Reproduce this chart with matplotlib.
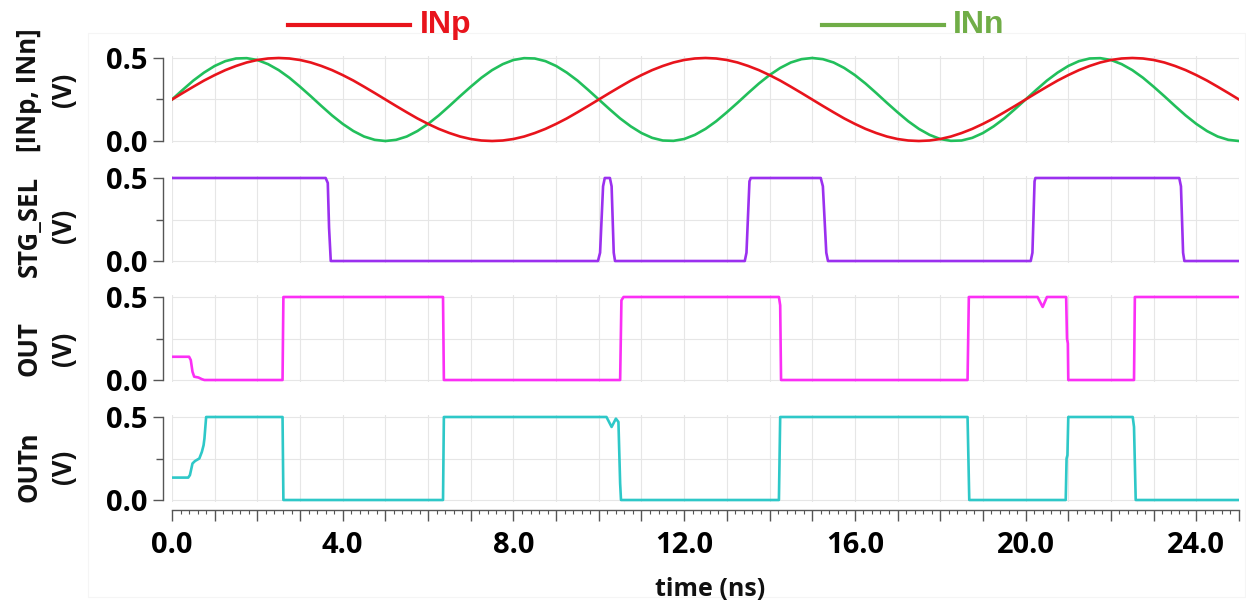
import numpy as np
import matplotlib
matplotlib.use("Agg")
import matplotlib.pyplot as plt
from matplotlib.lines import Line2D
from matplotlib.patches import Rectangle
from matplotlib.ticker import MultipleLocator, FuncFormatter

plt.rcParams['font.family'] = ['Open Sans', 'DejaVu Sans']
plt.rcParams['font.weight'] = 'bold'

# ---------------- data ----------------
t_sine = np.linspace(0, 25, 101)  # sample times, ns (0.25 ns step)

inp_v = [0.250, 0.289, 0.327, 0.364, 0.397, 0.427, 0.452, 0.473, 0.488, 0.497,
         0.500, 0.497, 0.488, 0.473, 0.452, 0.427, 0.397, 0.364, 0.327, 0.289,
         0.250, 0.211, 0.173, 0.136, 0.103, 0.073, 0.048, 0.027, 0.012, 0.003,
         0.000, 0.003, 0.012, 0.027, 0.048, 0.073, 0.103, 0.136, 0.173, 0.211,
         0.250, 0.289, 0.327, 0.364, 0.397, 0.427, 0.452, 0.473, 0.488, 0.497,
         0.500, 0.497, 0.488, 0.473, 0.452, 0.427, 0.397, 0.364, 0.327, 0.289,
         0.250, 0.211, 0.173, 0.136, 0.103, 0.073, 0.048, 0.027, 0.012, 0.003,
         0.000, 0.003, 0.012, 0.027, 0.048, 0.073, 0.103, 0.136, 0.173, 0.211,
         0.250, 0.289, 0.327, 0.364, 0.397, 0.427, 0.452, 0.473, 0.488, 0.497,
         0.500, 0.497, 0.488, 0.473, 0.452, 0.427, 0.397, 0.364, 0.327, 0.289,
         0.250]

inn_v = [0.250, 0.308, 0.364, 0.412, 0.452, 0.481, 0.497, 0.499, 0.488, 0.463,
         0.427, 0.381, 0.327, 0.270, 0.211, 0.154, 0.103, 0.060, 0.027, 0.007,
         0.000, 0.007, 0.027, 0.060, 0.103, 0.154, 0.211, 0.270, 0.327, 0.381,
         0.427, 0.463, 0.488, 0.499, 0.497, 0.481, 0.452, 0.412, 0.364, 0.308,
         0.250, 0.192, 0.136, 0.088, 0.048, 0.019, 0.003, 0.001, 0.012, 0.037,
         0.073, 0.119, 0.173, 0.230, 0.289, 0.346, 0.397, 0.440, 0.473, 0.493,
         0.500, 0.493, 0.473, 0.440, 0.397, 0.346, 0.289, 0.230, 0.173, 0.119,
         0.073, 0.037, 0.012, 0.001, 0.003, 0.019, 0.048, 0.088, 0.136, 0.192,
         0.250, 0.308, 0.364, 0.412, 0.452, 0.481, 0.497, 0.499, 0.488, 0.463,
         0.427, 0.381, 0.327, 0.270, 0.211, 0.154, 0.103, 0.060, 0.027, 0.007,
         0.000]

stg_t = [0.00, 3.60, 3.65, 3.68, 3.72, 9.98, 10.03, 10.10, 10.14, 10.26, 10.30, 10.35, 10.38,
         13.42, 13.46, 13.53, 13.56, 15.20, 15.25, 15.33, 15.37,
         20.12, 20.16, 20.21, 20.23, 23.60, 23.64, 23.69, 23.72, 25.00]
stg_v = [0.50, 0.50, 0.47, 0.20, 0.00, 0.00, 0.05, 0.45, 0.50, 0.50, 0.45, 0.05, 0.00,
         0.00, 0.05, 0.48, 0.50, 0.50, 0.45, 0.05, 0.00,
         0.00, 0.05, 0.48, 0.50, 0.50, 0.45, 0.05, 0.00, 0.00]

out_t = [0.00, 0.40, 0.44, 0.48, 0.52, 0.62, 0.70, 0.76, 2.59, 2.61, 6.35, 6.37,
         10.50, 10.53, 10.58, 14.22, 14.25, 14.27, 18.64, 18.67, 20.28, 20.40, 20.50,
         20.95, 20.97, 20.99, 21.00, 22.54, 22.56, 25.00]
out_v = [0.14, 0.14, 0.12, 0.05, 0.02, 0.015, 0.005, 0.00, 0.00, 0.50, 0.50, 0.00,
         0.00, 0.48, 0.50, 0.50, 0.45, 0.00, 0.00, 0.50, 0.50, 0.44, 0.50,
         0.50, 0.25, 0.22, 0.00, 0.00, 0.50, 0.50]

outn_t = [0.00, 0.38, 0.42, 0.48, 0.54, 0.64, 0.70, 0.74, 0.76, 0.80, 2.59, 2.61, 6.35, 6.37,
          10.18, 10.30, 10.40, 10.46, 10.50, 10.52, 14.22, 14.25, 18.64, 18.68,
          20.94, 20.96, 20.98, 21.00, 22.51, 22.54, 22.58, 25.00]
outn_v = [0.135, 0.135, 0.15, 0.22, 0.235, 0.25, 0.29, 0.33, 0.37, 0.50, 0.50, 0.00, 0.00, 0.50,
          0.50, 0.44, 0.49, 0.47, 0.10, 0.00, 0.00, 0.50, 0.50, 0.00,
          0.00, 0.25, 0.27, 0.50, 0.50, 0.44, 0.00, 0.00]

ylabels = ['[INp, INn]\n(V)', 'STG_SEL\n(V)', 'OUT\n(V)', 'OUTn\n(V)']
legend_names = ['INp', 'INn']
xtick_step_label = 4.0

# ---------------- styling ----------------
C_INP = '#e8141c'
C_INN = '#22bf5b'
C_INN_LEG = '#70ad47'
C_STG = '#9b30ef'
C_OUT = '#fb2ff5'
C_OUTN = '#2ec8c8'
GRID = '#e6e6e6'
AXC = '#555555'

W, H = 1246, 600
fig = plt.figure(figsize=(W / 100, H / 100), dpi=100)

# very faint frame
fig.add_artist(Rectangle((88 / W, 1 - 597 / H), (W - 89) / W, (597 - 33) / H,
                         transform=fig.transFigure, fill=False,
                         edgecolor='#f5f5f5', lw=0.8))

left = 172 / W
width = 1067 / W
ax_h = 87 / H
bottoms_px = [143, 263, 382, 502]
label_centers = [90, 226, 349, 467]

series = [
    [(t_sine, inp_v, C_INP), (t_sine, inn_v, C_INN)],
    [(stg_t, stg_v, C_STG)],
    [(out_t, out_v, C_OUT)],
    [(outn_t, outn_v, C_OUTN)],
]

axes = []
for i in range(4):
    ax = fig.add_axes([left, (H - bottoms_px[i]) / H, width, ax_h])
    axes.append(ax)
    if i == 0:
        # INn drawn first so INp sits on top
        ax.plot(series[0][1][0], series[0][1][1], color=series[0][1][2], lw=1.9, zorder=3)
        ax.plot(series[0][0][0], series[0][0][1], color=series[0][0][2], lw=1.9, zorder=4)
    else:
        for tt, vv, cc in series[i]:
            ax.plot(tt, vv, color=cc, lw=1.9, zorder=3)
    ax.set_xlim(0, 25)
    ax.set_ylim(-0.012, 0.512)
    for s in ['top', 'right']:
        ax.spines[s].set_visible(False)
    ax.spines['left'].set_position(('outward', 6.5))
    ax.spines['left'].set_bounds(0, 0.5)
    ax.spines['left'].set_color(AXC)
    ax.spines['left'].set_linewidth(1.0)
    ax.set_yticks([0.0, 0.5])
    ax.set_yticklabels(['0.0', '0.5'])
    ax.yaxis.set_minor_locator(MultipleLocator(0.25))
    ax.tick_params(axis='y', which='major', length=7, width=1.0, color=AXC,
                   labelsize=21, pad=4)
    ax.tick_params(axis='y', which='minor', length=5, width=1.0, color=AXC)
    # grid
    for gx in range(0, 26):
        ax.axvline(gx, color=GRID, lw=0.8, zorder=0)
    for gy in [0.0, 0.25, 0.5]:
        ax.axhline(gy, color=GRID, lw=0.8, zorder=0)
    if i < 3:
        ax.spines['bottom'].set_visible(False)
        ax.tick_params(axis='x', which='both', bottom=False, labelbottom=False)
    fig.text(46 / W, 1 - label_centers[i] / H, ylabels[i], rotation=90,
             ha='center', va='center', multialignment='center',
             fontsize=18.5, fontweight='bold', linespacing=1.35, color='#111111')

axb = axes[3]
axb.spines['bottom'].set_position(('outward', 5.8))
axb.spines['bottom'].set_color(AXC)
axb.spines['bottom'].set_linewidth(1.0)
axb.xaxis.set_major_locator(MultipleLocator(1.0))
axb.xaxis.set_minor_locator(MultipleLocator(0.2))
axb.xaxis.set_major_formatter(FuncFormatter(
    lambda v, p: f'{v:.1f}' if abs(v / xtick_step_label - round(v / xtick_step_label)) < 1e-6 else ''))
axb.tick_params(axis='x', which='major', length=8, width=1.0, color=AXC,
                labelsize=21, pad=7)
axb.tick_params(axis='x', which='minor', length=3, width=0.8, color=AXC)
for tk in axb.xaxis.get_major_ticks():
    loc = tk.get_loc()
    if loc is not None and abs(loc / 2 - round(loc / 2)) > 1e-6:
        tk.tick1line.set_markersize(5)

fig.text(710 / W, 4 / H, 'time (ns)', ha='center', va='baseline',
         fontsize=18, fontweight='bold', color='#111111')

# legend
ly = 1 - 25 / H
fig.add_artist(Line2D([288 / W, 410 / W], [ly, ly], transform=fig.transFigure,
                      color=C_INP, lw=3))
fig.text(420 / W, ly, legend_names[0], ha='left', va='center', fontsize=23,
         fontweight='bold', color=C_INP,
         family=['Liberation Sans Narrow', 'Liberation Sans', 'DejaVu Sans'])
fig.add_artist(Line2D([822 / W, 944 / W], [ly, ly], transform=fig.transFigure,
                      color=C_INN_LEG, lw=3))
fig.text(953 / W, ly, legend_names[1], ha='left', va='center', fontsize=23,
         fontweight='bold', color=C_INN_LEG,
         family=['Liberation Sans Narrow', 'Liberation Sans', 'DejaVu Sans'])

fig.savefig('out.png', dpi=100)
